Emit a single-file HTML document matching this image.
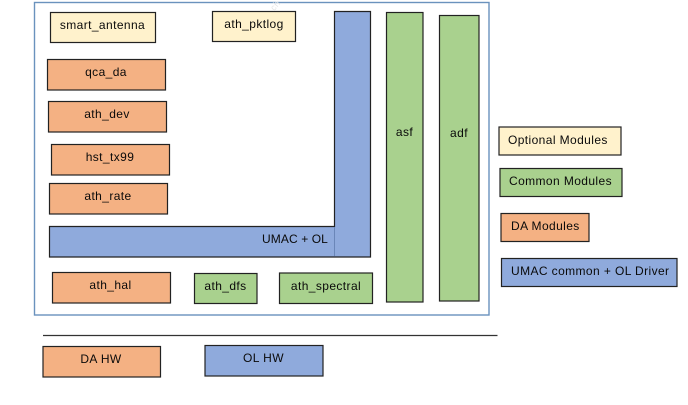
<!DOCTYPE html>
<html><head><meta charset="utf-8"><style>
html,body{margin:0;padding:0;background:#fff;width:688px;height:405px;overflow:hidden}
svg{display:block}
text{font-family:"Liberation Sans",sans-serif;font-size:12px;letter-spacing:.4px;fill:#0a0a0a;text-anchor:middle}
.l{text-anchor:start}
.y{fill:#fff2cc}.o{fill:#f4b183}.g{fill:#a9d18e}.b{fill:#8faadc}
rect{stroke:#222;stroke-width:1.2}
</style></head><body>
<svg width="688" height="405" viewBox="0 0 688 405" xmlns="http://www.w3.org/2000/svg">
<rect x="34.5" y="2.5" width="454.5" height="312.5" fill="#fff" style="stroke:#6a92bd;stroke-width:1.4"/>
<text x="276" y="8" transform="rotate(-50 276 6)" style="fill:#e6e6e6;font-size:9px">ch</text>
<rect class="y" x="50.5" y="12.5" width="105" height="30"/>
<text x="102.5" y="29">smart_antenna</text>
<rect class="y" x="212.5" y="11.5" width="83" height="30"/>
<text x="254" y="28">ath_pktlog</text>
<rect class="o" x="47.5" y="59.5" width="118" height="30.5"/>
<text x="106" y="76">qca_da</text>
<rect class="o" x="48.5" y="101.5" width="118" height="30.5"/>
<text x="107" y="118">ath_dev</text>
<rect class="o" x="51.5" y="144.5" width="118" height="30.5"/>
<text x="110" y="161">hst_tx99</text>
<rect class="o" x="49.5" y="183.5" width="118" height="30.5"/>
<text x="108" y="200">ath_rate</text>
<path d="M49.5 226.5H334.5V11.5H370.5V257H49.5Z" class="b" stroke="#222" stroke-width="1.2"/>
<path d="M334.5 227V256" stroke="#6a86b8" stroke-width="1" fill="none"/>
<text x="295" y="243" style="letter-spacing:.1px">UMAC + OL</text>
<rect class="g" x="386.5" y="12.5" width="36.5" height="289.5"/>
<text x="404.5" y="136">asf</text>
<rect class="g" x="439.5" y="15.5" width="39.5" height="285.5"/>
<text x="459" y="137">adf</text>
<rect class="o" x="52.5" y="272.5" width="118" height="30.5"/>
<text x="110.5" y="289">ath_hal</text>
<rect class="g" x="194.5" y="273.5" width="62.5" height="30"/>
<text x="225.5" y="290">ath_dfs</text>
<rect class="g" x="279.5" y="273" width="93" height="30.5"/>
<text x="326" y="290">ath_spectral</text>
<path d="M43 335.5H497.5" stroke="#333" stroke-width="1.2" fill="none"/>
<rect class="o" x="43" y="346.5" width="117.5" height="30.5"/>
<text x="101" y="363">DA HW</text>
<rect class="b" x="205" y="345.5" width="118" height="30.5"/>
<text x="263.5" y="362">OL HW</text>
<rect class="y" x="499" y="127" width="122" height="28"/>
<text class="l" x="508" y="144">Optional Modules</text>
<rect class="g" x="500" y="168.5" width="122" height="28"/>
<text class="l" x="509" y="185">Common Modules</text>
<rect class="o" x="501" y="213.5" width="88" height="28"/>
<text class="l" x="511" y="230">DA Modules</text>
<rect class="b" x="501.5" y="258.5" width="175.5" height="28"/>
<text class="l" x="511" y="275">UMAC common + OL Driver</text>
</svg>
</body></html>
